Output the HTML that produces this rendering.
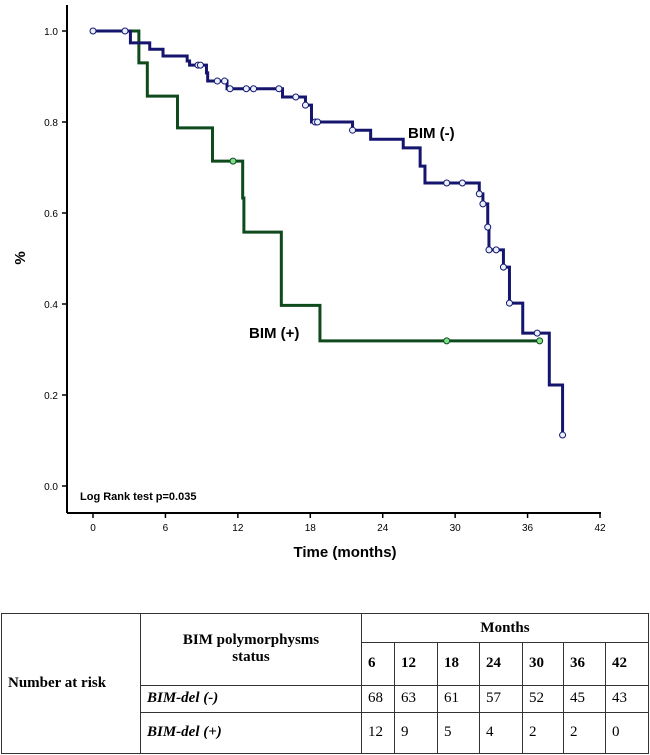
<!DOCTYPE html>
<html><head><meta charset="utf-8"><style>
html,body{margin:0;padding:0;background:#fff;width:650px;height:755px;overflow:hidden;font-family:"Liberation Sans",Arial,sans-serif}
#chart{position:absolute;left:0;top:0}
table{position:absolute;left:1px;top:613px;width:648px;height:141px;border-collapse:collapse;font-family:"Liberation Serif","Times New Roman",serif;font-size:15px;color:#000}
td{border:1px solid #333;padding:0 6px;text-align:left}
td.c{text-align:center}
.b{font-weight:bold}
.i{font-style:italic;font-weight:bold}
</style></head><body>
<svg id="chart" width="650" height="600"></svg>
<table>
<colgroup><col style="width:139px"><col style="width:221px"><col style="width:33px"><col style="width:43px"><col style="width:42px"><col style="width:43px"><col style="width:41px"><col style="width:42px"><col style="width:43px"></colgroup>
<tr style="height:29px"><td rowspan="4" class="b">Number at risk</td><td rowspan="2" class="c b">BIM polymorphysms<br>status</td><td colspan="7" class="c b">Months</td></tr>
<tr style="height:42px"><td class="b">6</td><td class="b">12</td><td class="b">18</td><td class="b">24</td><td class="b">30</td><td class="b">36</td><td class="b">42</td></tr>
<tr style="height:27px"><td class="i">BIM-del (-)</td><td>68</td><td>63</td><td>61</td><td>57</td><td>52</td><td>45</td><td>43</td></tr>
<tr style="height:41px"><td class="i">BIM-del (+)</td><td>12</td><td>9</td><td>5</td><td>4</td><td>2</td><td>2</td><td>0</td></tr>
</table>
<script>
const xTicks=[0,6,12,18,24,30,36,42];
const yTicks=[0.0,0.2,0.4,0.6,0.8,1.0];
const negTimes=[0,3.1,4.7,5.8,7.8,8.0,9.4,9.5,11.1,15.7,17.6,18.1,21.5,23,25.7,27.1,27.5,32.0,32.3,32.7,32.8,34.0,34.5,35.6,37.8,38.9];
const negSurv=[1.0,0.974,0.96,0.945,0.934,0.925,0.908,0.89,0.873,0.855,0.837,0.80,0.782,0.762,0.743,0.703,0.666,0.642,0.62,0.569,0.519,0.481,0.402,0.336,0.222,0.112];
const negCensorT=[0,2.65,8.7,8.9,10.3,10.9,11.35,12.7,13.3,15.4,16.8,17.6,18.4,18.6,21.5,29.3,30.6,32.0,32.3,32.7,32.8,33.4,34.0,34.5,36.8,38.9];
const posTimes=[0,3.8,4.5,7.0,9.9,12.4,12.5,15.6,18.8];
const posSurv=[1.0,0.93,0.857,0.787,0.714,0.633,0.558,0.397,0.319];
const posCensorT=[11.6,29.3,37.0];
const NS="http://www.w3.org/2000/svg";
const svg=document.getElementById('chart');
const X=t=>93+t*(600-93)/42;
const Y=s=>486-s*455;
function mk(tag,attrs,parent){const e=document.createElementNS(NS,tag);for(const k in attrs)e.setAttribute(k,attrs[k]);(parent||svg).appendChild(e);return e;}
function survAt(times,surv,t){let s=surv[0];for(let i=0;i<times.length;i++){if(times[i]<=t)s=surv[i];}return s;}
let ax=mk('line',{x1:67,y1:5,x2:67,y2:513,stroke:'#000','stroke-width':2});

let bx=mk('line',{x1:67,y1:513,x2:601,y2:513,stroke:'#000','stroke-width':2});

xTicks.forEach(t=>{
  mk('line',{x1:X(t),y1:513,x2:X(t),y2:518,stroke:'#000','stroke-width':1.5});
  const tx=mk('text',{x:X(t),y:531,'font-size':10,'text-anchor':'middle',fill:'#000'});
  tx.textContent=t;
  
  
});
yTicks.forEach(v=>{
  mk('line',{x1:62,y1:Y(v),x2:67,y2:Y(v),stroke:'#000','stroke-width':1.5});
  const tx=mk('text',{x:58,y:Y(v)+4,'font-size':10,'text-anchor':'end',fill:'#000'});
  tx.textContent=v.toFixed(1);
  
  
});
function curve(times,surv,endT,color,name){
  let d='M'+X(times[0])+','+Y(surv[0]);
  for(let i=1;i<times.length;i++){d+=' H'+X(times[i])+' V'+Y(surv[i]);}
  d+=' H'+X(endT);
  const p=mk('path',{d:d,fill:'none',stroke:color,'stroke-width':3});
  
  
}
curve(posTimes,posSurv,37.0,'#0e4a1c','bim-pos-curve');
curve(negTimes,negSurv,38.9,'#15156e','bim-neg-curve');
posCensorT.forEach(t=>{
  const c=mk('circle',{cx:X(t),cy:Y(survAt(posTimes,posSurv,t)),r:3,fill:'#7fe08a',stroke:'#0e4a1c','stroke-width':1});
  
  
});
negCensorT.forEach(t=>{
  const c=mk('circle',{cx:X(t),cy:Y(survAt(negTimes,negSurv,t)),r:3,fill:'#e8f2ff',stroke:'#15156e','stroke-width':1});
  
  
});
function label(txt,x,y,size,name,extra){
  const t=mk('text',Object.assign({x:x,y:y,'font-size':size,'font-weight':'bold',fill:'#000'},extra||{}));
  t.textContent=txt;
  
  
  return t;
}
label('BIM (-)',408,138,15,'bim-neg-label');
label('BIM (+)',249,338,15,'bim-pos-label');
label('Log Rank test p=0.035',80,500,11,'log-rank-annotation');
label('Time (months)',345,557,15,'x-axis-title',{'text-anchor':'middle'});
label('%',25,258,15,'y-axis-title',{'text-anchor':'middle',transform:'rotate(-90 25 258)'});
</script>
</body></html>
